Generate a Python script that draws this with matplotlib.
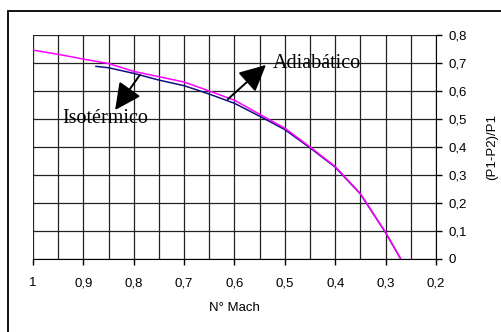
import matplotlib.pyplot as plt
from matplotlib.patches import Rectangle

# Values (x axis runs from 1 down to 0.2)
mach_adiab = [1.0, 0.95, 0.9, 0.85, 0.8, 0.75, 0.7, 0.65, 0.6, 0.55, 0.5, 0.45, 0.4, 0.35, 0.3, 0.27]
dp_adiab = [0.746, 0.731, 0.714, 0.698, 0.670, 0.651, 0.632, 0.600, 0.567, 0.517, 0.467, 0.400, 0.330, 0.233, 0.095, 0.0]

mach_iso = [0.875, 0.85, 0.8, 0.75, 0.7, 0.65, 0.6, 0.55, 0.5, 0.45, 0.4, 0.35, 0.3, 0.27]
dp_iso = [0.688, 0.683, 0.663, 0.639, 0.619, 0.589, 0.556, 0.510, 0.462, 0.397, 0.328, 0.232, 0.094, 0.0]

x_ticks = [1.0, 0.9, 0.8, 0.7, 0.6, 0.5, 0.4, 0.3, 0.2]
x_labels = ['1', '0,9', '0,8', '0,7', '0,6', '0,5', '0,4', '0,3', '0,2']
y_ticks = [0, 0.1, 0.2, 0.3, 0.4, 0.5, 0.6, 0.7, 0.8]
y_labels = ['0', '0,1', '0,2', '0,3', '0,4', '0,5', '0,6', '0,7', '0,8']

plt.rcParams['font.family'] = ['Liberation Sans', 'DejaVu Sans']

fig = plt.figure(figsize=(5.02, 3.32), dpi=100)
fig.patch.set_facecolor('white')
ax = fig.add_axes([0.0657, 0.2199, 0.8028, 0.6747])

# outer chart frame (runs off the right and bottom edges)
fig.patches.append(Rectangle((0.016, -0.2), 1.2, 0.968 + 0.2, transform=fig.transFigure,
                             fill=False, edgecolor='black', lw=1.3, clip_on=False))

ax.plot(mach_iso, dp_iso, color='#101080', lw=1.1, zorder=3)
ax.plot(mach_adiab, dp_adiab, color='#ff00ff', lw=1.1, zorder=4)

ax.set_xlim(1.0, 0.2)
ax.set_ylim(0, 0.8)

# grid: every 0.05 on x, every 0.1 on y
ax.set_xticks([1.0 - 0.05 * i for i in range(17)], minor=True)
ax.set_xticks(x_ticks)
ax.set_xticklabels(x_labels)
ax.set_yticks(y_ticks)
ax.set_yticklabels(y_labels)
ax.grid(which='both', axis='x', color='#222222', lw=0.9)
ax.grid(which='major', axis='y', color='#222222', lw=0.9)
ax.set_axisbelow(True)

ax.yaxis.tick_right()
ax.yaxis.set_label_position('right')
for s in ['top', 'left']:
    ax.spines[s].set_visible(False)
ax.spines['right'].set_color('black')
ax.spines['bottom'].set_color('black')
ax.tick_params(axis='both', which='major', length=4, width=1, labelsize=9.5, colors='black')
ax.tick_params(axis='x', which='minor', length=0)
ax.tick_params(axis='x', pad=9)
ax.tick_params(axis='y', pad=5)

ax.set_xlabel('N° Mach', fontsize=9.5, labelpad=9)
ax.set_ylabel('(P1-P2)/P1', fontsize=9.5, rotation=90, labelpad=14)

arrow = dict(arrowstyle='-|>,head_length=0.65,head_width=0.32', mutation_scale=25,
             lw=1.4, color='black', shrinkA=0, shrinkB=0)
ax.annotate('', xy=(0.5375, 0.693), xytext=(0.613, 0.571), arrowprops=arrow, zorder=5)
ax.annotate('', xy=(0.837, 0.532), xytext=(0.788, 0.657), arrowprops=arrow, zorder=5)
ax.text(0.436, 0.698, 'Adiabático', family=['Liberation Serif', 'DejaVu Serif'],
        fontsize=14.5, ha='center', va='center', zorder=6)
ax.text(0.857, 0.500, 'Isotérmico', family=['Liberation Serif', 'DejaVu Serif'],
        fontsize=14.5, ha='center', va='center', zorder=6)

fig.savefig('out.png', dpi=100, facecolor='white')
